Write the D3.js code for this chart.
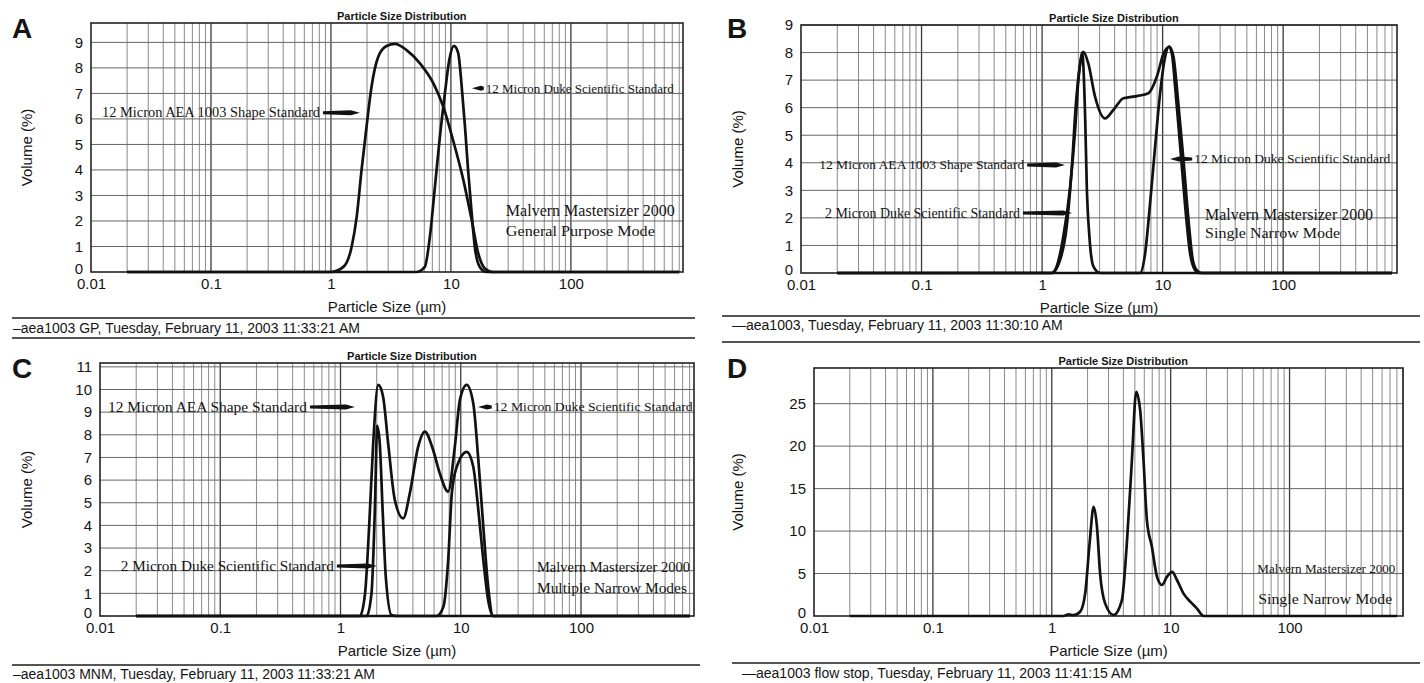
<!DOCTYPE html>
<html>
<head>
<meta charset="utf-8">
<script src="https://cdn.jsdelivr.net/npm/d3@7"></script>
<style>
body { margin: 0; background: #fff; }
svg text { font-family: "Liberation Sans", Arial, sans-serif; fill: #151515; }
svg text.serif { font-family: "Liberation Serif", "Times New Roman", serif; }
</style>
</head>
<body>
<svg id="chart" width="1424" height="683"></svg>
<script>
// tick labels
const xTicks = [0.01, 0.1, 1, 10, 100];
const yTicks9 = [0, 1, 2, 3, 4, 5, 6, 7, 8, 9];
const yTicks11 = [0, 1, 2, 3, 4, 5, 6, 7, 8, 9, 10, 11];
const yTicks25 = [0, 5, 10, 15, 20, 25];

// [size (um), volume (%)]
const aeaA = [[0.02, 0], [1.0, 0], [1.27, 0.2], [1.49, 1.0], [1.64, 2.17], [1.8, 4.0], [1.98, 5.7], [2.18, 7.27], [2.48, 8.44], [2.91, 8.86], [3.41, 8.94], [4.27, 8.7], [5.52, 8.18], [7.13, 7.4], [8.63, 6.48], [10.4, 5.18], [12.7, 3.6], [14.9, 2.04], [16.9, 0.73], [19.2, 0.14], [22.4, 0], [800, 0]];
const duke12A = [[0.02, 0], [5.17, 0], [6.06, 0.2], [6.68, 1.38], [7.36, 3.35], [8.09, 5.3], [8.91, 7.0], [9.68, 8.3], [10.6, 8.86], [11.5, 8.58], [12.3, 7.27], [13.1, 5.7], [13.9, 4.0], [14.9, 2.3], [15.8, 1.0], [17.4, 0.2], [19.8, 0], [800, 0]];

const aeaB = [[0.02, 0], [1.2, 0], [1.28, 0.1], [1.5, 1.32], [1.71, 3.13], [1.88, 5.19], [2.0, 7.0], [2.2, 8.03], [2.42, 7.6], [2.75, 6.4], [3.33, 5.61], [3.91, 5.92], [4.73, 6.34], [6.11, 6.42], [7.62, 6.52], [8.95, 7.12], [10.2, 7.97], [11.4, 8.21], [12.3, 7.85], [13.5, 6.16], [14.9, 4.1], [16.4, 1.92], [17.8, 0.47], [19.2, 0.1], [21, 0], [800, 0]];
const duke2B = [[0.02, 0], [1.2, 0], [1.41, 0.47], [1.6, 1.68], [1.76, 3.74], [1.91, 6.16], [2.07, 7.6], [2.15, 8.0], [2.28, 5.55], [2.35, 3.13], [2.47, 1.32], [2.67, 0.23], [3.03, 0], [800, 0]];
const duke12B = [[0.02, 0], [6.5, 0], [7.16, 0.71], [7.87, 2.53], [8.66, 4.58], [9.53, 6.52], [10.5, 7.85], [11.3, 8.22], [12.0, 7.9], [12.7, 6.76], [14.0, 4.58], [15.4, 2.4], [16.9, 0.71], [18.6, 0.1], [20, 0], [800, 0]];

const aeaC = [[0.02, 0], [1.45, 0], [1.6, 1.0], [1.73, 3.94], [1.87, 7.62], [2.06, 10.2], [2.26, 9.68], [2.49, 7.62], [2.83, 5.12], [3.32, 4.31], [3.77, 5.42], [4.42, 7.47], [5.02, 8.14], [5.89, 7.33], [6.69, 6.3], [7.85, 5.49], [8.92, 7.47], [9.84, 9.54], [11.2, 10.2], [12.7, 9.39], [14.0, 6.89], [15.4, 3.94], [16.9, 1.29], [18.6, 0], [800, 0]];
const duke2C = [[0.02, 0], [1.65, 0], [1.81, 1.0], [1.93, 4.68], [2.02, 8.4], [2.12, 7.62], [2.24, 4.68], [2.38, 1.73], [2.66, 0.04], [3.0, 0], [800, 0]];
const duke12C = [[0.02, 0], [6.3, 0], [7.17, 0.41], [7.86, 2.47], [8.43, 5.42], [9.27, 6.59], [11.2, 7.25], [12.7, 6.59], [14.0, 4.68], [15.4, 2.47], [16.9, 0.7], [18.6, 0], [800, 0]];

const flowD = [[0.02, 0], [1.26, 0], [1.38, 0.2], [1.52, 0.1], [1.73, 0.5], [1.91, 2.67], [2.08, 8.55], [2.25, 12.86], [2.4, 10.5], [2.55, 5.0], [2.81, 1.49], [3.31, 0.12], [3.89, 1.88], [4.28, 8.55], [4.72, 18.35], [5.13, 26.4], [5.54, 24.2], [5.91, 18.35], [6.31, 11.3], [6.95, 8.15], [7.67, 4.63], [8.45, 3.65], [9.31, 4.63], [10.3, 5.2], [11.3, 4.24], [12.8, 2.67], [14.6, 1.69], [16.6, 0.9], [18.9, 0], [800, 0]];

// texts
const panelLetters = ["A", "B", "C", "D"];
const labelAea1003 = "12 Micron AEA 1003 Shape Standard";
const labelAea = "12 Micron AEA Shape Standard";
const labelDuke12 = "12 Micron Duke Scientific Standard";
const labelDuke2 = "2 Micron Duke Scientific Standard";
const instrument = "Malvern Mastersizer 2000";
const modes = ["General Purpose Mode", "Single Narrow Mode", "Multiple Narrow Modes", "Single Narrow Mode"];
const footers = [
    "\u2013aea1003  GP, Tuesday, February 11, 2003 11:33:21 AM",
    "\u2014aea1003, Tuesday, February 11, 2003 11:30:10 AM",
    "\u2013aea1003 MNM, Tuesday, February 11, 2003 11:33:21 AM",
    "\u2014aea1003 flow stop, Tuesday, February 11, 2003 11:41:15 AM"
];

const panels = [
    { left: 91, right: 683, top: 23, bottom: 272, xMax: 860, yMax: 9.76, yTicks: yTicks9,
      series: [aeaA, duke12A], letterX: 12, letterY: 38, yTitleX: 27,
      notes: [
          { text: labelAea1003, tail: 0.858, tip: 1.745, y: 6.24, fs: 14, w: 218 },
          { text: labelDuke12, tail: 18.8, tip: 14.96, y: 7.2, fs: 13, w: 188 }
      ],
      inst: [{ at: 28.7, y: 2.39, fs: 16, w: 169 }, { at: 28.7, y: 1.61, fs: 15.5, w: 149 }],
      lines: [318, 338], lineX: [12, 695], footerY: 333 },
    { left: 801, right: 1397, top: 25, bottom: 273, xMax: 880, yMax: 9, yTicks: yTicks9,
      series: [aeaB, duke2B, duke12B], letterX: 727, letterY: 38, yTitleX: 738,
      notes: [
          { text: labelAea1003, tail: 0.752, tip: 1.55, y: 3.92, fs: 13.5, w: 205 },
          { text: labelDuke2, tail: 0.695, tip: 1.775, y: 2.18, fs: 14, w: 195 },
          { text: labelDuke12, tail: 17.6, tip: 11.5, y: 4.14, fs: 13.5, w: 196 }
      ],
      inst: [{ at: 22.5, y: 2.1, fs: 16, w: 168 }, { at: 22.5, y: 1.45, fs: 15, w: 135 }],
      lines: [316, 342], lineX: [722, 1420], footerY: 330 },
    { left: 100, right: 694, top: 363, bottom: 616, xMax: 870, yMax: 11.17, yTicks: yTicks11,
      series: [aeaC, duke2C, duke12C], letterX: 12, letterY: 378, yTitleX: 27,
      notes: [
          { text: labelAea, tail: 0.557, tip: 1.317, y: 9.23, fs: 15, w: 199 },
          { text: labelDuke2, tail: 0.933, tip: 2.007, y: 2.21, fs: 15, w: 213 },
          { text: labelDuke12, tail: 18.1, tip: 13.9, y: 9.23, fs: 13.5, w: 199 }
      ],
      inst: [{ at: 43, y: 2.16, fs: 14.5, w: 153 }, { at: 43, y: 1.24, fs: 14, w: 150 }],
      lines: [665], lineX: [12, 700], footerY: 679 },
    { left: 814, right: 1403, top: 368, bottom: 616, xMax: 900, yMax: 29.2, yTicks: yTicks25,
      series: [flowD], letterX: 727, letterY: 378, yTitleX: 738,
      notes: [],
      inst: [{ at: 53.6, y: 5.53, fs: 13, w: 138 }, { at: 54.5, y: 2.0, fs: 15, w: 134 }],
      lines: [663], lineX: [732, 1420], footerY: 678 }
];

function isDecade(d) {
    const l = Math.log10(d);
    return Math.abs(l - Math.round(l)) < 1e-6;
}

function createPanel(svg, p, i) {
    const x = d3.scaleLog().domain([0.01, p.xMax]).range([p.left, p.right]);
    const y = d3.scaleLinear().domain([0, p.yMax]).range([p.bottom, p.top]);
    const g = svg.append("g");

    // grid
    g.append("g").selectAll("line")
        .data(x.ticks().filter(d => d > 0.01))
        .enter().append("line")
        .attr("x1", d => x(d)).attr("x2", d => x(d))
        .attr("y1", p.top).attr("y2", p.bottom)
        .attr("stroke", d => isDecade(d) ? "#3a3a3a" : "#8a8a8a")
        .attr("stroke-width", d => isDecade(d) ? 1.3 : 1);

    g.append("g").selectAll("line")
        .data(p.yTicks.filter(d => d > 0))
        .enter().append("line")
        .attr("x1", p.left).attr("x2", p.right)
        .attr("y1", d => y(d)).attr("y2", d => y(d))
        .attr("stroke", "#666")
        .attr("stroke-width", 1);

    g.append("rect")
        .attr("x", p.left).attr("y", p.top)
        .attr("width", p.right - p.left).attr("height", p.bottom - p.top)
        .attr("fill", "none").attr("stroke", "#222").attr("stroke-width", 1.6);

    // axes
    g.append("g")
        .attr("transform", `translate(0,${p.bottom})`)
        .call(d3.axisBottom(x).tickValues(xTicks).tickFormat(d => String(d)).tickSize(0).tickPadding(6))
        .call(a => a.select(".domain").remove())
        .attr("font-size", 15);

    g.append("g")
        .attr("transform", `translate(${p.left},0)`)
        .call(d3.axisLeft(y).tickValues(p.yTicks).tickSize(0).tickPadding(8))
        .call(a => a.select(".domain").remove())
        .attr("font-size", 15)
        .selectAll("text")
        .filter(d => d === 0)
        .attr("dy", "0.1em"); // the zero sits a little high, over the 0.01

    // curves
    const line = d3.line()
        .x(d => x(d[0]))
        .y(d => y(d[1]))
        .curve(d3.curveMonotoneX);

    g.selectAll("path.curve")
        .data(p.series)
        .enter().append("path")
        .attr("class", "curve")
        .attr("d", line)
        .attr("fill", "none")
        .attr("stroke", "#111")
        .attr("stroke-width", 2.7)
        .attr("stroke-linejoin", "round");

    // labels with arrows
    p.notes.forEach(n => {
        const xt = x(n.tail), xp = x(n.tip), yy = y(n.y);
        const dir = xp > xt ? 1 : -1;
        g.append("path")
            .attr("d", `M${xt},${yy - 1.5} L${xp - dir * 9},${yy - 2.5} L${xp},${yy} L${xp - dir * 9},${yy + 2.5} L${xt},${yy + 1.5} Z`)
            .attr("fill", "#111");
        g.append("text")
            .attr("class", "serif")
            .attr("x", dir > 0 ? xt - 3 : xt + 2)
            .attr("y", yy)
            .attr("dy", "0.33em")
            .attr("text-anchor", dir > 0 ? "end" : "start")
            .attr("font-size", n.fs)
            .attr("textLength", n.w)
            .attr("lengthAdjust", "spacingAndGlyphs")
            .text(n.text);
    });

    [instrument, modes[i]].forEach((t, k) => {
        const s = p.inst[k];
        g.append("text")
            .attr("class", "serif")
            .attr("x", x(s.at))
            .attr("y", y(s.y))
            .attr("dy", "0.33em")
            .attr("font-size", s.fs)
            .attr("textLength", s.w)
            .attr("lengthAdjust", "spacingAndGlyphs")
            .text(t);
    });

    // titles
    g.append("text")
        .attr("x", p.left + 0.525 * (p.right - p.left))
        .attr("y", p.top - 3.5)
        .attr("text-anchor", "middle")
        .attr("font-size", 11)
        .attr("font-weight", "bold")
        .text("Particle Size Distribution");

    g.append("text")
        .attr("x", (p.left + p.right) / 2)
        .attr("y", p.bottom + 35)
        .attr("dy", "0.35em")
        .attr("text-anchor", "middle")
        .attr("font-size", 15)
        .text("Particle Size (\u00b5m)");

    g.append("text")
        .attr("transform", `translate(${p.yTitleX},${(p.top + p.bottom) / 2}) rotate(-90)`)
        .attr("dy", "0.35em")
        .attr("text-anchor", "middle")
        .attr("font-size", 15)
        .text("Volume (%)");

    g.append("text")
        .attr("x", p.letterX)
        .attr("y", p.letterY)
        .attr("font-size", 28)
        .attr("font-weight", "bold")
        .attr("fill", "#000")
        .text(panelLetters[i]);

    // footer
    g.selectAll("line.foot")
        .data(p.lines)
        .enter().append("line")
        .attr("class", "foot")
        .attr("x1", p.lineX[0]).attr("x2", p.lineX[1])
        .attr("y1", d => d).attr("y2", d => d)
        .attr("stroke", "#555")
        .attr("stroke-width", 1.8);

    g.append("text")
        .attr("x", p.lineX[0] + (i % 2 ? 10 : 1))
        .attr("y", p.footerY)
        .attr("font-size", 14)
        .text(footers[i]);
}

const svg = d3.select("#chart");
panels.forEach((p, i) => createPanel(svg, p, i));
</script>
</body>
</html>
